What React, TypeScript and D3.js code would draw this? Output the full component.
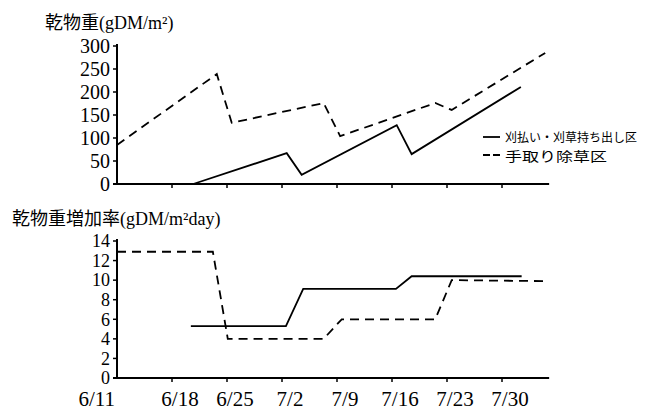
import React from "react";
import * as d3 from "d3";

// days counted from 6/11
const tickDays = [0, 7, 14, 21, 28, 35, 42, 49];
const tickLabels = ["6/11", "6/18", "6/25", "7/2", "7/9", "7/16", "7/23", "7/30"];
const weightTicks = [0, 50, 100, 150, 200, 250, 300];
const rateTicks = [0, 2, 4, 6, 8, 10, 12, 14];

// 乾物重 (gDM/m2)
const mowWeightDay = [9.7, 21.6, 23.5, 35.6, 37.5, 51.4];
const mowWeight = [0, 67, 20, 128, 65, 211];
const handWeightDay = [0, 12.7, 14.6, 26.3, 28.4, 40.5, 42.6, 54.5];
const handWeight = [85, 239, 133, 176, 104, 176, 161, 285];

// 乾物重増加率 (gDM/m2day)
const mowRateDay = [9.4, 21.5, 23.7, 35.5, 37.5, 51.5];
const mowRate = [5.3, 5.3, 9.1, 9.1, 10.4, 10.4];
const handRateDay = [0, 12.2, 14.1, 26.3, 28.6, 40.5, 42.6, 54.5];
const handRate = [12.9, 12.9, 4.0, 4.0, 6.0, 6.0, 10.0, 9.9];

const legendNames = ["刈払い・刈草持ち出し区", "手取り除草区"];

const serif = "'Liberation Serif', 'DejaVu Serif', 'Noto Sans CJK JP', serif";
const sans = "'Noto Sans CJK JP', 'Noto Sans', sans-serif";
const DASH = "9,6";

const x = d3.scaleLinear().domain([0, 49]).range([117, 502]);
const xEnd = 55;
const yW = d3.scaleLinear().domain([0, 300]).range([184, 46]);
const yR = d3.scaleLinear().domain([0, 14]).range([378, 241]);

const zip = (a: number[], b: number[]) => a.map((d, i) => [d, b[i]] as [number, number]);

function Panel({ y, ticks, fs, showLabels }: { y: d3.ScaleLinear<number, number>; ticks: number[]; fs: number; showLabels: boolean }) {
  const y0 = y(0);
  const yTop = y(ticks[ticks.length - 1]);
  return (
    <g>
      <line x1={x(0)} x2={x(0)} y1={yTop - 2} y2={y0} stroke="#000" strokeWidth={2} />
      <line x1={x(0) - 4} x2={x(xEnd)} y1={y0} y2={y0} stroke="#000" strokeWidth={2} />
      {ticks.map((t) => (
        <g key={t}>
          <line x1={x(0) - 4} x2={x(0)} y1={y(t)} y2={y(t)} stroke="#000" strokeWidth={1.5} />
          <text x={x(0) - 7} y={y(t)} dy="0.35em" textAnchor="end" fontFamily={serif} fontSize={fs}>
            {t}
          </text>
        </g>
      ))}
      {tickDays.slice(1).map((d) => (
        <line key={d} x1={x(d)} x2={x(d)} y1={y0} y2={y0 + 4} stroke="#000" strokeWidth={1.5} />
      ))}
      {showLabels &&
        tickLabels.map((l, i) => (
          <text
            key={l}
            x={i === 0 ? x(0) - 2 : x(tickDays[i]) + 8}
            y={406}
            textAnchor={i === 0 ? "end" : "middle"}
            fontFamily={serif}
            fontSize={21}
          >
            {l}
          </text>
        ))}
    </g>
  );
}

export default function App() {
  const lineW = d3.line<[number, number]>().x((d) => x(d[0])).y((d) => yW(d[1]));
  const lineR = d3.line<[number, number]>().x((d) => x(d[0])).y((d) => yR(d[1]));

  return (
    <svg width={651} height={412} style={{ position: "absolute", left: 0, top: 0, background: "#fff" }}>
      <text x={45} y={29} fontFamily={serif} fontSize={18}>
        乾物重(gDM/m²)
      </text>
      <text x={12} y={225} fontFamily={serif} fontSize={18}>
        乾物重増加率(gDM/m²day)
      </text>

      <Panel y={yW} ticks={weightTicks} fs={20} showLabels={false} />
      <Panel y={yR} ticks={rateTicks} fs={18} showLabels={true} />

      <path d={lineW(zip(mowWeightDay, mowWeight)) || ""} fill="none" stroke="#000" strokeWidth={1.8} />
      <path d={lineW(zip(handWeightDay, handWeight)) || ""} fill="none" stroke="#000" strokeWidth={1.8} strokeDasharray={DASH} />
      <path d={lineR(zip(mowRateDay, mowRate)) || ""} fill="none" stroke="#000" strokeWidth={1.8} />
      <path d={lineR(zip(handRateDay, handRate)) || ""} fill="none" stroke="#000" strokeWidth={1.8} strokeDasharray={DASH} />

      <g>
        <line x1={483} x2={500} y1={137} y2={137} stroke="#000" strokeWidth={1.8} />
        <text x={505} y={142} fontFamily={sans} fontSize={12} textLength={132} lengthAdjust="spacingAndGlyphs">
          {legendNames[0]}
        </text>
        <line x1={483} x2={500} y1={155} y2={155} stroke="#000" strokeWidth={1.8} strokeDasharray="7,3" />
        <text x={505} y={161} fontFamily={sans} fontSize={13} textLength={102} lengthAdjust="spacingAndGlyphs">
          {legendNames[1]}
        </text>
      </g>
    </svg>
  );
}
